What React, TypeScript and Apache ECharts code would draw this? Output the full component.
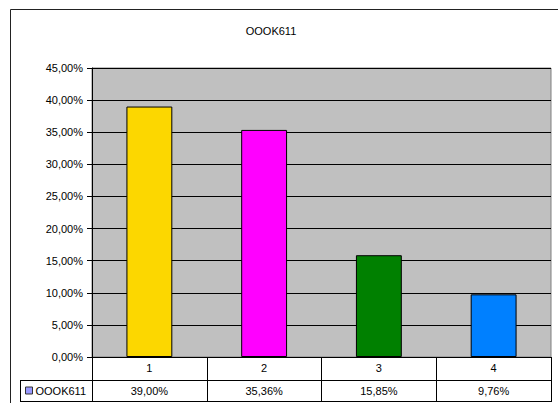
import React, { useEffect, useRef } from "react";
import * as echarts from "echarts";

const title = "OOOK611";
const seriesName = "OOOK611";
const categories = ["1", "2", "3", "4"];
const values = [39.0, 35.36, 15.85, 9.76];
const barColors = ["#FCD700", "#FF00FF", "#008000", "#0080FF"];
const legendColor = "#9999FF";
const yTicksMax = 45;
const yTickStep = 5;

const fmt = (v: number) => v.toFixed(2).replace(".", ",") + "%";

export default function App() {
  const ref = useRef<HTMLDivElement>(null);
  useEffect(() => {
    if (!ref.current) return;
    const chart = echarts.init(ref.current, null, { renderer: "svg" });
    const font = "Arial, 'Liberation Sans', sans-serif";
    chart.setOption({
      animation: false,
      backgroundColor: "#ffffff",
      textStyle: { fontFamily: font },
      title: {
        text: title,
        left: 266,
        top: 20,
        textAlign: "center",
        textStyle: { fontSize: 11, fontWeight: "normal", color: "#000", fontFamily: font },
      },
      legend: {
        left: 25,
        top: 385,
        itemWidth: 7,
        itemHeight: 7,
        itemGap: 0,
        icon: "rect",
        padding: 0,
        textStyle: { fontSize: 11, color: "#000", padding: [0, 0, 0, -2] },
        itemStyle: { borderColor: "#333", borderWidth: 1 },
        data: [seriesName],
      },
      grid: {
        left: 92,
        top: 68,
        right: 7,
        bottom: 46,
        show: true,
        backgroundColor: "#C0C0C0",
        borderColor: "#808080",
        borderWidth: 1,
      },
      xAxis: [
        {
          type: "category",
          data: categories,
          position: "bottom",
          axisLine: { show: true, lineStyle: { color: "#000", width: 1 } },
          axisTick: { show: true, length: 45, lineStyle: { color: "#000", width: 1 } },
          axisLabel: { fontSize: 11, color: "#000", margin: 5 },
          splitLine: { show: false },
        },
        {
          type: "category",
          data: values.map(fmt),
          position: "bottom",
          offset: 23,
          axisLine: { show: false },
          axisTick: { show: false },
          axisLabel: { fontSize: 11, color: "#000", margin: 5 },
          splitLine: { show: false },
        },
      ],
      yAxis: {
        type: "value",
        min: 0,
        max: yTicksMax,
        interval: yTickStep,
        axisLine: { show: true, lineStyle: { color: "#000", width: 1 } },
        axisTick: { show: true, length: 5, lineStyle: { color: "#000" } },
        axisLabel: {
          fontSize: 11,
          color: "#000",
          margin: 9,
          formatter: (v: number) => fmt(v),
        },
        splitLine: { show: true, lineStyle: { color: "#000", width: 1 } },
      },
      graphic: [
        {
          type: "rect",
          z: -10,
          silent: true,
          shape: { x: 10.5, y: 9.5, width: 600, height: 420 },
          style: { fill: "#ffffff", stroke: "#222", lineWidth: 1 },
        },
        {
          type: "line",
          silent: true,
          shape: { x1: 20, y1: 380.5, x2: 551, y2: 380.5 },
          style: { stroke: "#000", lineWidth: 1 },
        },
        {
          type: "line",
          silent: true,
          shape: { x1: 20, y1: 401.5, x2: 551, y2: 401.5 },
          style: { stroke: "#000", lineWidth: 1 },
        },
        {
          type: "line",
          silent: true,
          shape: { x1: 20.5, y1: 380, x2: 20.5, y2: 402 },
          style: { stroke: "#000", lineWidth: 1 },
        },
      ],
      series: [
        {
          name: seriesName,
          type: "bar",
          barWidth: "40%",
          itemStyle: { color: legendColor, borderColor: "#000", borderWidth: 1 },
          data: values.map((v, i) => ({
            value: v,
            itemStyle: { color: barColors[i], borderColor: "#000", borderWidth: 1 },
          })),
        },
      ],
    });
    return () => chart.dispose();
  }, []);
  return (
    <div
      ref={ref}
      style={{ position: "fixed", left: 0, top: 0, width: 558, height: 403 }}
    />
  );
}
